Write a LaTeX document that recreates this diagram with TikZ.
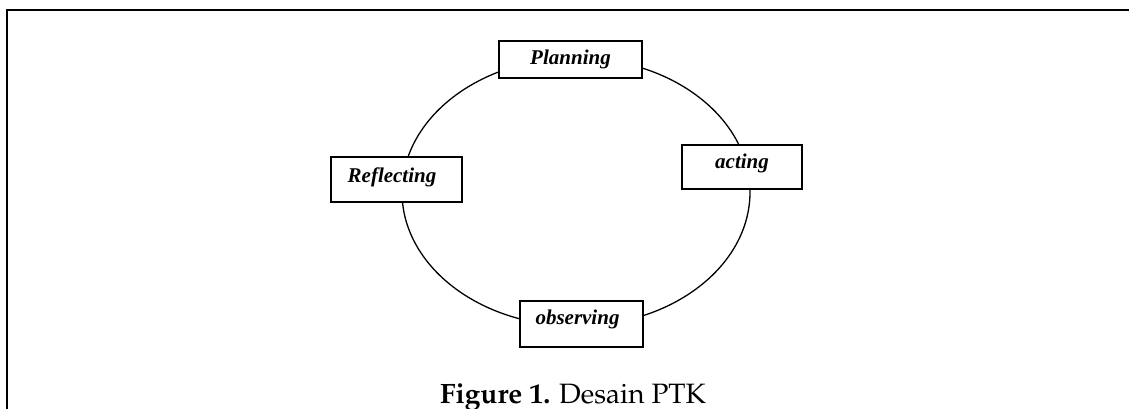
\documentclass[tikz,border=0pt]{standalone}
\usepackage{fontspec}
\usetikzlibrary{shapes.geometric}
\newfontfamily\boxfont{Liberation Serif}
\newcommand{\capfont}{\fontencoding{T1}\fontfamily{ppl}\selectfont}
\tikzset{
  stagebox/.style={draw=black, line width=1.1pt, fill=white, inner sep=0pt,
    align=center, font=\boxfont\bfseries\itshape\fontsize{21}{24}\selectfont},
  cycleline/.style={draw=black, line width=1.3pt},
}
\begin{document}
\begin{tikzpicture}[x=1pt,y=-1pt]
\useasboundingbox (0,0) rectangle (1129,409);
\fill[white] (0,0) rectangle (1129,409);
% frame
\draw[line width=2.5pt] (7,409) -- (7,10) -- (1129,10);
% cycle
\node[ellipse, cycleline, minimum width=348pt, minimum height=268pt, inner sep=0pt] (cyc) at (576,192) {};
% stages
\node[stagebox, minimum width=143pt, minimum height=37pt, text height=24pt, text depth=13pt] (plan) at (570.5,59.5) {Planning};
\node[stagebox, minimum width=131pt, minimum height=45pt, text height=25pt, text depth=20pt] (refl) at (396.5,179.5) {Reflecting\hspace*{9pt}};
\node[stagebox, minimum width=120pt, minimum height=44pt, text height=23pt, text depth=21pt] (act) at (742,167) {acting};
\node[stagebox, minimum width=123pt, minimum height=46pt, text height=23pt, text depth=23pt] (obs) at (581.5,324) {observing\hspace*{8pt}};
% caption
\node[anchor=base, inner sep=0pt, font=\capfont\fontsize{28}{32}\selectfont] (cap) at (573,403) {\textbf{Figure 1.} Desain PTK};
\end{tikzpicture}
\end{document}
